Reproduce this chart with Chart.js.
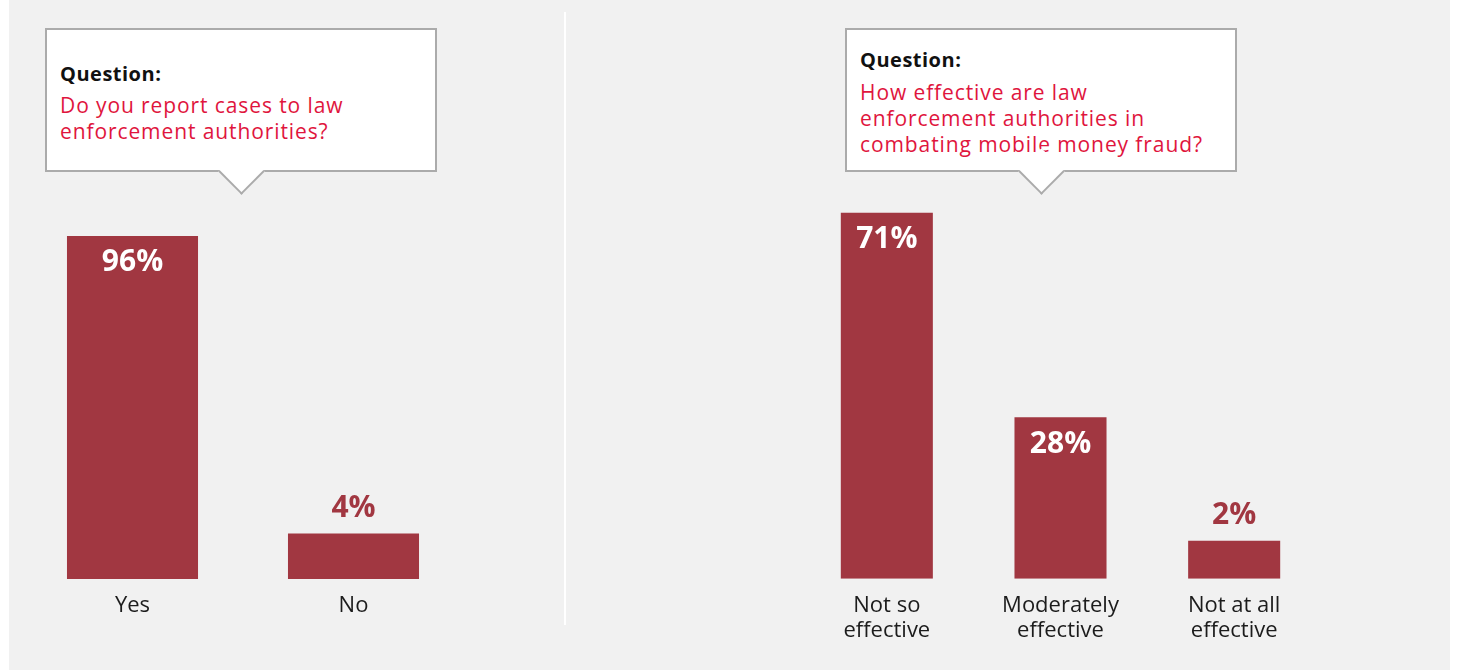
<!DOCTYPE html>
<html>
<head>
<meta charset="utf-8">
<title>Law enforcement survey</title>
<script src="https://cdn.jsdelivr.net/npm/chart.js@4.4.1/dist/chart.umd.min.js"></script>
<style>
  body { margin: 0; background: #fff; font-family: "Open Sans", sans-serif; }
  #page { position: relative; width: 1457px; height: 670px; overflow: hidden; }
  #panel { position: absolute; left: 9px; top: 0; width: 1441px; height: 670px; background: #f1f1f1; }
  #divider { position: absolute; left: 564px; top: 12px; width: 2px; height: 613px; background: #fff; }
  canvas { position: absolute; top: 0; }
  #leftChart { left: 0; }
  #rightChart { left: 570px; }
  .callout {
    position: absolute; top: 28px; width: 392px; height: 144px; box-sizing: border-box;
    background: #fff; border: 2px solid #ababab; padding: 0 13px;
  }
  .callout .pointer {
    position: absolute; width: 33px; height: 33px; background: #fff;
    border-right: 2px solid #ababab; border-bottom: 2px solid #ababab;
    box-sizing: border-box; bottom: -18px; transform: rotate(45deg);
  }
  .callout .q { font-weight: 700; font-size: 20px; letter-spacing: 0.5px; line-height: 26px; color: #111; }
  .callout .text { font-size: 21px; letter-spacing: 0.9px; line-height: 26px; color: #e0153d; white-space: nowrap; }
  #calloutLeft { left: 45px; }
  #calloutLeft .q { margin-top: 31px; }
  #calloutLeft .text { margin-top: 5px; }
  #calloutLeft .pointer { left: 178px; }
  #calloutRight { left: 845px; }
  #calloutRight .q { margin-top: 17px; }
  #calloutRight .text { margin-top: 6px; }
  #calloutRight .pointer { left: 178px; }
</style>
</head>
<body>
<div id="page">
  <div id="panel"></div>
  <div id="divider"></div>
  <canvas id="leftChart" width="565" height="670"></canvas>
  <canvas id="rightChart" width="887" height="670"></canvas>
  <div class="callout" id="calloutLeft">
    <div class="q">Question:</div>
    <div class="text">Do you report cases to law<br>enforcement authorities?</div>
    <div class="pointer"></div>
  </div>
  <div class="callout" id="calloutRight">
    <div class="q">Question:</div>
    <div class="text">How effective are law<br>enforcement authorities in<br>combating mobile money fraud?</div>
    <div class="pointer"></div>
  </div>
</div>
<script>
// Survey answers (percent of respondents)
const reportLabels = ['Yes', 'No'];
const reportValues = [96, 4];

const effectLabels = [['Not so', 'effective'], ['Moderately', 'effective'], ['Not at all', 'effective']];
const effectValues = [71, 28, 2];

const BAR_COLOR = '#a13741';

// Writes the percentage on each bar: inside in white for tall bars, above in bar colour for short ones
const valueLabels = {
    id: 'valueLabels',
    afterDatasetsDraw(chart) {
        const ctx = chart.ctx;
        const meta = chart.getDatasetMeta(0);
        const values = chart.data.datasets[0].data;
        ctx.save();
        ctx.font = 'bold 30px "Open Sans", sans-serif';
        ctx.textAlign = 'center';
        ctx.textBaseline = 'middle';
        meta.data.forEach((bar, i) => {
            const v = values[i];
            if (v >= 10) {
                ctx.fillStyle = '#ffffff';
                ctx.fillText(v + '%', bar.x, bar.y + 27);
            } else {
                ctx.fillStyle = BAR_COLOR;
                ctx.fillText(v + '%', bar.x, bar.y - 25);
            }
        });
        ctx.restore();
    }
};

function makeChart(canvasId, labels, values, opts) {
    return new Chart(document.getElementById(canvasId), {
        type: 'bar',
        data: {
            labels: labels,
            datasets: [{
                data: values,
                base: opts.base,
                backgroundColor: BAR_COLOR,
                borderWidth: 0,
                categoryPercentage: 1,
                barPercentage: opts.barPercentage
            }]
        },
        options: {
            responsive: false,
            animation: false,
            devicePixelRatio: 1,
            layout: { padding: opts.padding },
            plugins: {
                legend: { display: false },
                tooltip: { enabled: false }
            },
            scales: {
                x: {
                    grid: { display: false, drawTicks: false },
                    border: { display: false },
                    ticks: {
                        padding: 14,
                        color: '#1c1c1c',
                        font: { family: '"Open Sans", sans-serif', size: 22, lineHeight: 1.14 }
                    }
                },
                y: {
                    display: false,
                    min: opts.base,
                    max: opts.max
                }
            }
        },
        plugins: [valueLabels]
    });
}

makeChart('leftChart', reportLabels, reportValues, {
    base: -10, max: 100, barPercentage: 0.593,
    padding: { left: 22, right: 101, top: 223, bottom: 38 }
});

makeChart('rightChart', effectLabels, effectValues, {
    base: -6, max: 80, barPercentage: 0.53,
    padding: { left: 230, right: 136, top: 170, bottom: 13 }
});
</script>
</body>
</html>
